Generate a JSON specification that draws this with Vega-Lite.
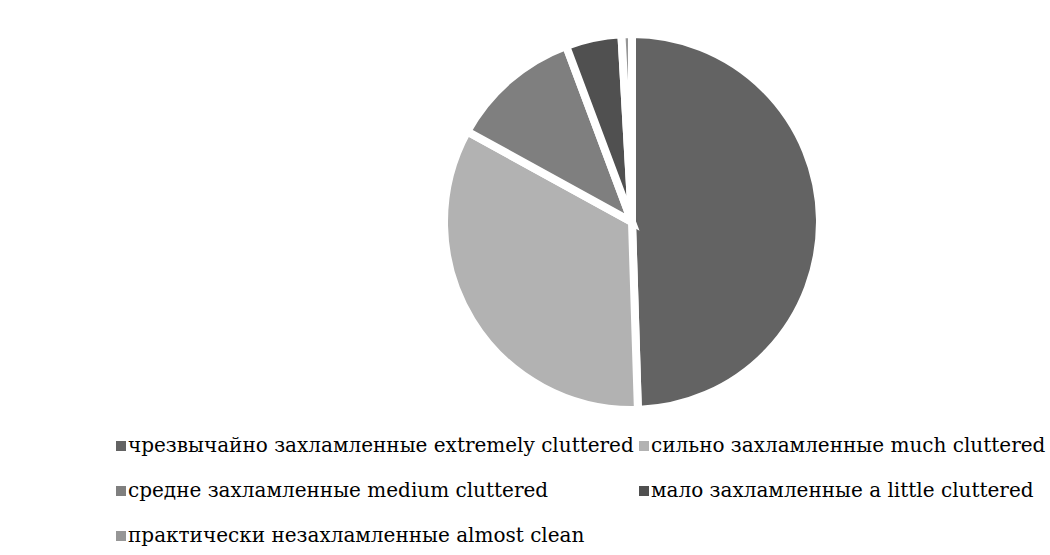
{
  "$schema": "https://vega.github.io/schema/vega-lite/v6.json",
  "autosize": "none",
  "width": 836,
  "height": 444,
  "padding": {"left": 214, "top": 0, "right": 0, "bottom": 111},
  "background": "white",
  "config": {"view": {"stroke": null}},
  "data": {
    "values": [
      {"idx": 1, "category": "чрезвычайно захламленные extremely cluttered", "share": 49.5},
      {"idx": 2, "category": "сильно захламленные much cluttered", "share": 33.5},
      {"idx": 3, "category": "средне захламленные medium cluttered", "share": 11.3},
      {"idx": 4, "category": "мало захламленные a little cluttered", "share": 4.8},
      {"idx": 5, "category": "практически незахламленные almost clean", "share": 0.9}
    ]
  },
  "mark": {"type": "arc", "outerRadius": 188, "stroke": "white", "strokeWidth": 8},
  "encoding": {
    "theta": {"field": "share", "type": "quantitative", "stack": true},
    "order": {"field": "idx", "type": "quantitative"},
    "color": {
      "field": "category",
      "type": "nominal",
      "scale": {
        "domain": [
          "чрезвычайно захламленные extremely cluttered",
          "сильно захламленные much cluttered",
          "средне захламленные medium cluttered",
          "мало захламленные a little cluttered",
          "практически незахламленные almost clean"
        ],
        "range": ["#636363", "#b2b2b2", "#7f7f7f", "#505050", "#969696"]
      },
      "legend": {
        "title": null,
        "orient": "none",
        "direction": "horizontal",
        "legendX": -103,
        "legendY": 436,
        "columns": 2,
        "columnPadding": 0,
        "rowPadding": 25,
        "symbolType": "square",
        "symbolSize": 100,
        "symbolStrokeWidth": 0,
        "labelOffset": -3,
        "labelFont": "DejaVu Serif",
        "labelFontSize": 20,
        "labelColor": "#000000",
        "labelLimit": 0
      }
    }
  }
}
